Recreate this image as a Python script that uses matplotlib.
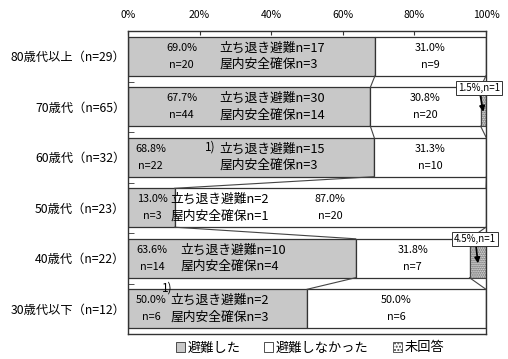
import numpy as np
import matplotlib
matplotlib.use("Agg")
from matplotlib import pyplot as plt
from matplotlib.patches import Patch

plt.rcParams['font.family'] = ['Noto Sans CJK JP', 'DejaVu Sans']

# age groups, top to bottom
groups = ['80歳代以上', '70歳代', '60歳代', '50歳代', '40歳代', '30歳代以下']
group_n = [29, 65, 32, 23, 22, 12]

# shares (%)
evac = [69.0, 67.7, 68.8, 13.0, 63.6, 50.0]
noevac = [31.0, 30.8, 31.3, 87.0, 31.8, 50.0]
noans = [0.0, 1.5, 0.0, 0.0, 4.5, 0.0]

# counts
evac_n = [20, 44, 22, 3, 14, 6]
noevac_n = [9, 20, 10, 20, 7, 6]
noans_n = [0, 1, 0, 0, 1, 0]
leave_n = [17, 30, 15, 2, 10, 2]
indoor_n = [3, 14, 3, 1, 4, 3]
note_mark = ['', '', '1)', '', '', '1)']

legend_labels = ['避難した', '避難しなかった', '未回答']
ticks = [0, 20, 40, 60, 80, 100]

gray = '#c8c8c8'
edge = '#333333'
h = 0.77

fig = plt.figure(figsize=(5.08, 3.59), dpi=100)
ax = fig.add_axes([128 / 508, 25 / 359, 358 / 508, 303 / 359])

y = np.arange(len(groups)) + 0.5
evac = np.array(evac)
noevac = np.array(noevac)
noans = np.array(noans)

ax.barh(y, evac, height=h, color=gray, edgecolor=edge, linewidth=0.9)
ax.barh(y, noevac, left=evac, height=h, color='white', edgecolor=edge, linewidth=0.9)
ax.barh(y, noans, left=evac + noevac, height=h, color='white', edgecolor='#444444',
        hatch='........', linewidth=0.8)

# series lines between neighbouring bars
for cum in (evac, evac + noevac):
    for i in range(len(groups) - 1):
        ax.plot([cum[i], cum[i + 1]], [y[i] + h / 2, y[i + 1] - h / 2],
                color='#444444', lw=0.8)

# label layout (x in %)
pct_x = [15.0, 15.0, 6.3, 6.8, 6.8, 6.6]
txt_x = [25.5, 25.5, 25.5, 11.8, 14.6, 11.8]
mark_pos = [None, None, (21.5, -0.2), None, None, (9.6, -0.42)]
dy = 0.165

for i in range(len(groups)):
    ax.text(pct_x[i], y[i] - dy, f'{evac[i]:.1f}%', ha='center', va='center', fontsize=7.8)
    ax.text(pct_x[i], y[i] + dy, f'n={evac_n[i]}', ha='center', va='center', fontsize=7.8)
    ax.text(txt_x[i], y[i] - dy, f'立ち退き避難n={leave_n[i]}', ha='left', va='center', fontsize=9.2)
    ax.text(txt_x[i], y[i] + dy, f'屋内安全確保n={indoor_n[i]}', ha='left', va='center', fontsize=9.2)
    if note_mark[i]:
        mx, my = mark_pos[i]
        ax.text(mx, y[i] + my, note_mark[i], ha='left', va='center', fontsize=8.5)
    cx = evac[i] + noevac[i] / 2
    ax.text(cx, y[i] - dy, f'{noevac[i]:.1f}%', ha='center', va='center', fontsize=7.8)
    ax.text(cx, y[i] + dy, f'n={noevac_n[i]}', ha='center', va='center', fontsize=7.8)
    if noans[i] > 0:
        hx = 100 - noans[i] / 2
        ax.annotate(f'{noans[i]:.1f}%,n={noans_n[i]}', xy=(hx, y[i] + 0.1),
                    xytext=(98.5 - noans[i] / 3, y[i] - 0.38), ha='center', va='center',
                    fontsize=7, annotation_clip=False,
                    bbox=dict(boxstyle='square,pad=0.2', fc='white', ec=edge, lw=0.7),
                    arrowprops=dict(arrowstyle='-|>', color='black', lw=1.2,
                                    mutation_scale=8, shrinkA=0, shrinkB=0))

ax.set_xlim(0, 100)
ax.set_ylim(len(groups), 0)
ax.set_xticks(ticks)
ax.set_xticklabels([f'{t}%' for t in ticks], fontsize=7.5)
ax.xaxis.tick_top()
ax.tick_params(axis='x', direction='in', length=3, pad=8, color=edge)
ax.set_yticks(y)
ax.set_yticklabels([f'{g}（n={n}）' for g, n in zip(groups, group_n)], fontsize=8.8)
ax.set_yticks(np.arange(len(groups) + 1), minor=True)
ax.tick_params(axis='y', which='major', length=0, pad=2)
ax.tick_params(axis='y', which='minor', direction='in', length=4, color=edge)
for s in ax.spines.values():
    s.set_color(edge)
    s.set_linewidth(1.0)

handles = [Patch(fc=gray, ec=edge, lw=0.6),
           Patch(fc='white', ec=edge, lw=0.6),
           Patch(fc='white', ec='#444444', hatch='.....', lw=0.6)]
fig.legend(handles, legend_labels, loc='center', bbox_to_anchor=(0.61, 11 / 359), ncol=3,
           frameon=False, fontsize=9.5, handlelength=0.7, handleheight=0.7,
           handletextpad=0.2, columnspacing=1.8)

fig.savefig('out.png', dpi=100)
